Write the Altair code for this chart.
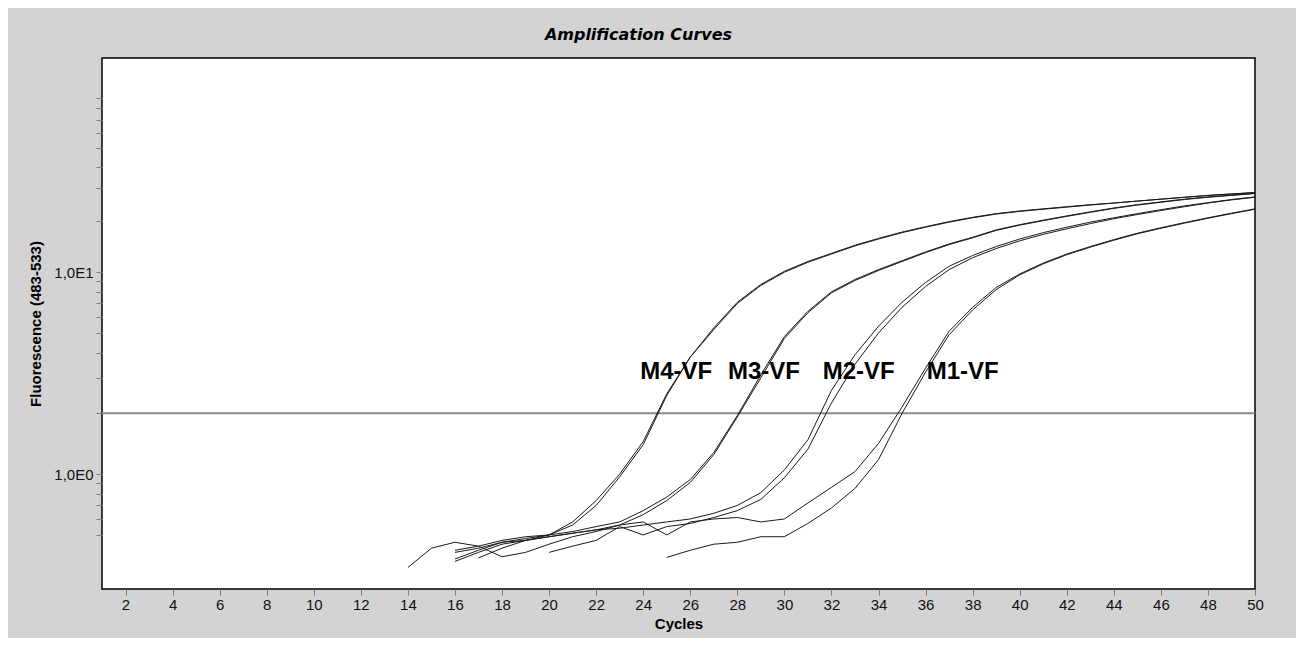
import altair as alt
import pandas as pd

# ---- data (fluorescence per cycle) ----
m4a_start = 16
m4a = [0.42, 0.44, 0.47, 0.49, 0.50, 0.56, 0.70, 0.97, 1.40, 2.45,
       3.8, 5.3, 7.1, 8.7, 10.1, 11.3, 12.4, 13.6, 14.7, 15.8,
       16.8, 17.8, 18.7, 19.5, 20.1, 20.6, 21.1, 21.6, 22.0, 22.5,
       23.0, 23.5, 24.0, 24.4, 24.8]
m4b_start = 17
m4b = [0.385, 0.43, 0.47, 0.50, 0.58, 0.74, 1.0, 1.45, 2.5, 3.8,
       5.2, 7.0, 8.6, 10.0, 11.2, 12.3, 13.5, 14.6, 15.7, 16.7,
       17.7, 18.6, 19.4, 20.0, 20.5, 21.0, 21.5, 22.0, 22.5, 23.0,
       23.5, 24.0, 24.4, 24.8]
m3a_start = 16
m3a = [0.38, 0.42, 0.46, 0.48, 0.50, 0.52, 0.55, 0.58, 0.66, 0.77,
       0.94, 1.28, 1.95, 3.1, 4.8, 6.4, 8.0, 9.2, 10.3, 11.4,
       12.6, 13.8, 14.9, 16.2, 17.2, 18.1, 19.0, 19.9, 20.8, 21.6,
       22.3, 23.0, 23.6, 24.1, 24.6]
m3b_start = 14
m3b = [0.345, 0.43, 0.46, 0.44, 0.39, 0.41, 0.45, 0.49, 0.52, 0.56,
       0.63, 0.74, 0.91, 1.25, 1.92, 3.0, 4.7, 6.3, 7.9, 9.1,
       10.2, 11.3, 12.5, 13.7, 14.8, 16.1, 17.1, 18.0, 18.9, 19.8,
       20.7, 21.5, 22.2, 22.9, 23.5, 24.0, 24.5]
m2a_start = 16
m2a = [0.37, 0.41, 0.45, 0.47, 0.49, 0.51, 0.53, 0.54, 0.56, 0.58,
       0.60, 0.64, 0.70, 0.81, 1.05, 1.48, 2.6, 3.9, 5.4, 7.1,
       8.9, 10.7, 12.1, 13.4, 14.6, 15.7, 16.7, 17.7, 18.6, 19.5,
       20.4, 21.3, 22.1, 22.9, 23.6]
m2b_start = 20
m2b = [0.41, 0.44, 0.47, 0.55, 0.50, 0.55, 0.57, 0.61, 0.66, 0.75,
       0.96, 1.33, 2.25, 3.5, 5.0, 6.7, 8.5, 10.3, 11.8, 13.1,
       14.3, 15.4, 16.4, 17.4, 18.4, 19.3, 20.2, 21.1, 22.0, 22.8,
       23.5]
m1a_start = 16
m1a = [0.41, 0.43, 0.46, 0.47, 0.49, 0.51, 0.53, 0.56, 0.58, 0.50,
       0.58, 0.60, 0.61, 0.58, 0.60, 0.72, 0.86, 1.03, 1.42, 2.15,
       3.35, 5.1, 6.7, 8.4, 9.8, 11.1, 12.3, 13.4, 14.5, 15.6,
       16.6, 17.6, 18.6, 19.6, 20.6]
m1b_start = 25
m1b = [0.387, 0.42, 0.45, 0.46, 0.49, 0.49, 0.57, 0.68, 0.85, 1.18,
       2.0, 3.2, 4.9, 6.5, 8.2, 9.7, 11.0, 12.2, 13.3, 14.4,
       15.5, 16.5, 17.5, 18.5, 19.5, 20.5]

threshold = [2.0]

label_names = ["M4-VF", "M3-VF", "M2-VF", "M1-VF"]
label_cycles = [25.4, 29.13, 33.16, 37.58]
label_values = [3.2, 3.2, 3.2, 3.2]

x_ticks = list(range(2, 51, 2))
y_ticks = [0.5, 0.6, 0.7, 0.8, 0.9, 1, 2, 3, 4, 5, 6, 7, 8, 9, 10,
           18, 26, 33, 41, 49, 57, 65, 73]

# ---- build tables ----
series = [("M4a", m4a_start, m4a), ("M4b", m4b_start, m4b),
          ("M3a", m3a_start, m3a), ("M3b", m3b_start, m3b),
          ("M2a", m2a_start, m2a), ("M2b", m2b_start, m2b),
          ("M1a", m1a_start, m1a), ("M1b", m1b_start, m1b)]
rows = []
for name, start, vals in series:
    for i, v in enumerate(vals):
        rows.append({"curve": name, "cycle": start + i, "value": v})
df = pd.DataFrame(rows)
thr_df = pd.DataFrame({"value": threshold})
lab_df = pd.DataFrame({"label": label_names, "cycle": label_cycles,
                       "value": label_values})

LBL_FONT = "Liberation Sans"

x_scale = alt.Scale(domain=[1, 50], nice=False, zero=False)
y_scale = alt.Scale(type="log", domain=[0.27, 115], nice=False)

x_axis = alt.Axis(values=x_ticks, title="Cycles", grid=False, domain=False,
                  tickColor="#7a7a7a", tickSize=6, tickWidth=1,
                  labelFont=LBL_FONT, labelFontSize=15, labelColor="#111",
                  labelPadding=2, labelFlush=False,
                  titleFont=LBL_FONT, titleFontSize=15, titleFontWeight="bold",
                  titleColor="#000", titleY=34, titleBaseline="middle")
y_axis = alt.Axis(values=y_ticks, title="Fluorescence (483-533)", grid=False,
                  domain=False, tickColor="#7a7a7a", tickSize=6, tickWidth=1,
                  labelExpr="datum.value == 1 ? '1,0E0' : (datum.value == 10 ? '1,0E1' : '')",
                  labelFont=LBL_FONT, labelFontSize=15, labelColor="#111",
                  labelPadding=3,
                  titleFont=LBL_FONT, titleFontSize=15, titleFontWeight="bold",
                  titleColor="#000", titleX=-67, titleBaseline="middle")

base = alt.Chart(df)

curves = base.mark_line(color="#1a1a1a", strokeWidth=1.0, interpolate="linear").encode(
    x=alt.X("cycle:Q", scale=x_scale, axis=x_axis),
    y=alt.Y("value:Q", scale=y_scale, axis=y_axis),
    detail="curve:N",
    order="cycle:Q",
)

thr = alt.Chart(thr_df).mark_rule(color="#8a8a8a", strokeWidth=2).encode(
    y=alt.Y("value:Q", scale=y_scale)
)

labels = alt.Chart(lab_df).mark_text(
    font=LBL_FONT, fontSize=24, fontWeight="bold", color="#000",
    align="center", baseline="middle"
).encode(
    x=alt.X("cycle:Q", scale=x_scale),
    y=alt.Y("value:Q", scale=y_scale),
    text="label:N",
)

chart = alt.layer(thr, curves, labels).properties(
    width=1153,
    height=531,
    autosize=alt.AutoSizeParams(type="none"),
    padding={"left": 94, "top": 50, "right": 41, "bottom": 49},
    background="#d3d3d3",
    title=alt.TitleParams(
        text="Amplification Curves", font="DejaVu Sans", fontSize=16,
        fontWeight="bold", fontStyle="italic", color="#000",
        anchor="middle", dx=-40, offset=2, baseline="alphabetic",
    ),
).configure_view(
    stroke="#000", strokeWidth=1.5, fill="white"
)

chart.save("out.html", embed_options={"renderer": "svg", "actions": False})
